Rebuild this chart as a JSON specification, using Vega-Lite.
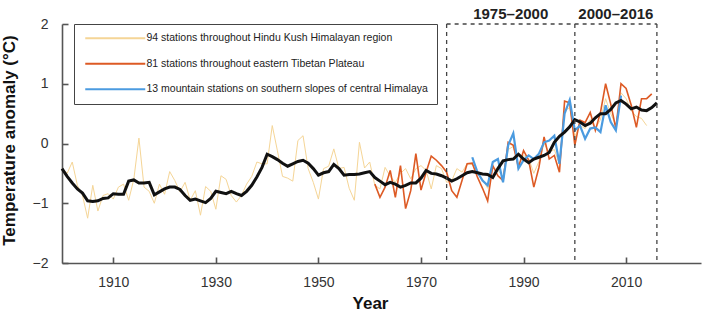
{
  "$schema": "https://vega.github.io/schema/vega-lite/v6.json",
  "width": 639,
  "height": 239,
  "autosize": "none",
  "padding": {"left": 62, "top": 24, "right": 2, "bottom": 51},
  "background": "white",
  "config": {
    "font": "Liberation Sans",
    "view": {"stroke": null},
    "axis": {"grid": false, "domainColor": "#555", "domainWidth": 1.6, "tickColor": "#555", "tickWidth": 1.6, "labelFont": "Liberation Sans", "labelFontSize": 14, "labelColor": "#333", "titleFont": "Liberation Sans", "titleColor": "#111", "titleFontWeight": "bold"},
    "legend": {"labelFont": "Liberation Sans", "labelFontSize": 10.5, "labelColor": "#222", "labelLimit": 400}
  },
  "data": {"values": [
    {"series":"94 stations throughout Hindu Kush Himalayan region","year":1900,"value":-0.42},
    {"series":"94 stations throughout Hindu Kush Himalayan region","year":1901,"value":-0.5},
    {"series":"94 stations throughout Hindu Kush Himalayan region","year":1902,"value":-0.31},
    {"series":"94 stations throughout Hindu Kush Himalayan region","year":1903,"value":-0.7},
    {"series":"94 stations throughout Hindu Kush Himalayan region","year":1904,"value":-0.87},
    {"series":"94 stations throughout Hindu Kush Himalayan region","year":1905,"value":-1.25},
    {"series":"94 stations throughout Hindu Kush Himalayan region","year":1906,"value":-0.7},
    {"series":"94 stations throughout Hindu Kush Himalayan region","year":1907,"value":-1.13},
    {"series":"94 stations throughout Hindu Kush Himalayan region","year":1908,"value":-0.87},
    {"series":"94 stations throughout Hindu Kush Himalayan region","year":1909,"value":-0.84},
    {"series":"94 stations throughout Hindu Kush Himalayan region","year":1910,"value":-0.93},
    {"series":"94 stations throughout Hindu Kush Himalayan region","year":1911,"value":-0.73},
    {"series":"94 stations throughout Hindu Kush Himalayan region","year":1912,"value":-0.68},
    {"series":"94 stations throughout Hindu Kush Himalayan region","year":1913,"value":-0.95},
    {"series":"94 stations throughout Hindu Kush Himalayan region","year":1914,"value":-0.6},
    {"series":"94 stations throughout Hindu Kush Himalayan region","year":1915,"value":0.09},
    {"series":"94 stations throughout Hindu Kush Himalayan region","year":1916,"value":-0.73},
    {"series":"94 stations throughout Hindu Kush Himalayan region","year":1917,"value":-0.8},
    {"series":"94 stations throughout Hindu Kush Himalayan region","year":1918,"value":-1.0},
    {"series":"94 stations throughout Hindu Kush Himalayan region","year":1919,"value":-0.68},
    {"series":"94 stations throughout Hindu Kush Himalayan region","year":1920,"value":-0.85},
    {"series":"94 stations throughout Hindu Kush Himalayan region","year":1921,"value":-0.47},
    {"series":"94 stations throughout Hindu Kush Himalayan region","year":1922,"value":-0.62},
    {"series":"94 stations throughout Hindu Kush Himalayan region","year":1923,"value":-0.81},
    {"series":"94 stations throughout Hindu Kush Himalayan region","year":1924,"value":-0.65},
    {"series":"94 stations throughout Hindu Kush Himalayan region","year":1925,"value":-0.95},
    {"series":"94 stations throughout Hindu Kush Himalayan region","year":1926,"value":-0.79},
    {"series":"94 stations throughout Hindu Kush Himalayan region","year":1927,"value":-1.2},
    {"series":"94 stations throughout Hindu Kush Himalayan region","year":1928,"value":-0.72},
    {"series":"94 stations throughout Hindu Kush Himalayan region","year":1929,"value":-0.8},
    {"series":"94 stations throughout Hindu Kush Himalayan region","year":1930,"value":-1.1},
    {"series":"94 stations throughout Hindu Kush Himalayan region","year":1931,"value":-0.54},
    {"series":"94 stations throughout Hindu Kush Himalayan region","year":1932,"value":-0.6},
    {"series":"94 stations throughout Hindu Kush Himalayan region","year":1933,"value":-0.87},
    {"series":"94 stations throughout Hindu Kush Himalayan region","year":1934,"value":-0.98},
    {"series":"94 stations throughout Hindu Kush Himalayan region","year":1935,"value":-0.87},
    {"series":"94 stations throughout Hindu Kush Himalayan region","year":1936,"value":-0.68},
    {"series":"94 stations throughout Hindu Kush Himalayan region","year":1937,"value":-0.55},
    {"series":"94 stations throughout Hindu Kush Himalayan region","year":1938,"value":-0.31},
    {"series":"94 stations throughout Hindu Kush Himalayan region","year":1939,"value":-0.34},
    {"series":"94 stations throughout Hindu Kush Himalayan region","year":1940,"value":-0.34},
    {"series":"94 stations throughout Hindu Kush Himalayan region","year":1941,"value":0.3},
    {"series":"94 stations throughout Hindu Kush Himalayan region","year":1942,"value":-0.12},
    {"series":"94 stations throughout Hindu Kush Himalayan region","year":1943,"value":-0.55},
    {"series":"94 stations throughout Hindu Kush Himalayan region","year":1944,"value":-0.58},
    {"series":"94 stations throughout Hindu Kush Himalayan region","year":1945,"value":-0.63},
    {"series":"94 stations throughout Hindu Kush Himalayan region","year":1946,"value":0.05},
    {"series":"94 stations throughout Hindu Kush Himalayan region","year":1947,"value":0.13},
    {"series":"94 stations throughout Hindu Kush Himalayan region","year":1948,"value":-0.42},
    {"series":"94 stations throughout Hindu Kush Himalayan region","year":1949,"value":-0.65},
    {"series":"94 stations throughout Hindu Kush Himalayan region","year":1950,"value":-0.93},
    {"series":"94 stations throughout Hindu Kush Himalayan region","year":1951,"value":-0.42},
    {"series":"94 stations throughout Hindu Kush Himalayan region","year":1952,"value":-0.38},
    {"series":"94 stations throughout Hindu Kush Himalayan region","year":1953,"value":-0.09},
    {"series":"94 stations throughout Hindu Kush Himalayan region","year":1954,"value":-0.42},
    {"series":"94 stations throughout Hindu Kush Himalayan region","year":1955,"value":-0.4},
    {"series":"94 stations throughout Hindu Kush Himalayan region","year":1956,"value":-0.75},
    {"series":"94 stations throughout Hindu Kush Himalayan region","year":1957,"value":-0.95},
    {"series":"94 stations throughout Hindu Kush Himalayan region","year":1958,"value":0.02},
    {"series":"94 stations throughout Hindu Kush Himalayan region","year":1959,"value":-0.41},
    {"series":"94 stations throughout Hindu Kush Himalayan region","year":1960,"value":-0.31},
    {"series":"94 stations throughout Hindu Kush Himalayan region","year":1961,"value":-0.7},
    {"series":"94 stations throughout Hindu Kush Himalayan region","year":1962,"value":-0.76},
    {"series":"94 stations throughout Hindu Kush Himalayan region","year":1963,"value":-0.4},
    {"series":"94 stations throughout Hindu Kush Himalayan region","year":1964,"value":-0.55},
    {"series":"94 stations throughout Hindu Kush Himalayan region","year":1965,"value":-0.65},
    {"series":"94 stations throughout Hindu Kush Himalayan region","year":1966,"value":-0.5},
    {"series":"94 stations throughout Hindu Kush Himalayan region","year":1967,"value":-0.42},
    {"series":"94 stations throughout Hindu Kush Himalayan region","year":1968,"value":-0.59},
    {"series":"94 stations throughout Hindu Kush Himalayan region","year":1969,"value":-0.42},
    {"series":"94 stations throughout Hindu Kush Himalayan region","year":1970,"value":-0.37},
    {"series":"94 stations throughout Hindu Kush Himalayan region","year":1971,"value":-0.45},
    {"series":"94 stations throughout Hindu Kush Himalayan region","year":1972,"value":-0.76},
    {"series":"94 stations throughout Hindu Kush Himalayan region","year":1973,"value":-0.37},
    {"series":"94 stations throughout Hindu Kush Himalayan region","year":1974,"value":-0.42},
    {"series":"94 stations throughout Hindu Kush Himalayan region","year":1975,"value":-0.65},
    {"series":"94 stations throughout Hindu Kush Himalayan region","year":1976,"value":-0.62},
    {"series":"94 stations throughout Hindu Kush Himalayan region","year":1977,"value":-0.42},
    {"series":"94 stations throughout Hindu Kush Himalayan region","year":1978,"value":-0.48},
    {"series":"94 stations throughout Hindu Kush Himalayan region","year":1979,"value":-0.34},
    {"series":"94 stations throughout Hindu Kush Himalayan region","year":1980,"value":-0.35},
    {"series":"94 stations throughout Hindu Kush Himalayan region","year":1981,"value":-0.5},
    {"series":"94 stations throughout Hindu Kush Himalayan region","year":1982,"value":-0.6},
    {"series":"94 stations throughout Hindu Kush Himalayan region","year":1983,"value":-0.75},
    {"series":"94 stations throughout Hindu Kush Himalayan region","year":1984,"value":-0.4},
    {"series":"94 stations throughout Hindu Kush Himalayan region","year":1985,"value":-0.45},
    {"series":"94 stations throughout Hindu Kush Himalayan region","year":1986,"value":-0.55},
    {"series":"94 stations throughout Hindu Kush Himalayan region","year":1987,"value":-0.1},
    {"series":"94 stations throughout Hindu Kush Himalayan region","year":1988,"value":-0.05},
    {"series":"94 stations throughout Hindu Kush Himalayan region","year":1989,"value":-0.35},
    {"series":"94 stations throughout Hindu Kush Himalayan region","year":1990,"value":-0.2},
    {"series":"94 stations throughout Hindu Kush Himalayan region","year":1991,"value":-0.25},
    {"series":"94 stations throughout Hindu Kush Himalayan region","year":1992,"value":-0.5},
    {"series":"94 stations throughout Hindu Kush Himalayan region","year":1993,"value":-0.3},
    {"series":"94 stations throughout Hindu Kush Himalayan region","year":1994,"value":0.0},
    {"series":"94 stations throughout Hindu Kush Himalayan region","year":1995,"value":-0.15},
    {"series":"94 stations throughout Hindu Kush Himalayan region","year":1996,"value":-0.1},
    {"series":"94 stations throughout Hindu Kush Himalayan region","year":1997,"value":-0.35},
    {"series":"94 stations throughout Hindu Kush Himalayan region","year":1998,"value":0.55},
    {"series":"94 stations throughout Hindu Kush Himalayan region","year":1999,"value":0.6},
    {"series":"94 stations throughout Hindu Kush Himalayan region","year":2000,"value":0.12},
    {"series":"94 stations throughout Hindu Kush Himalayan region","year":2001,"value":0.3},
    {"series":"94 stations throughout Hindu Kush Himalayan region","year":2002,"value":0.25},
    {"series":"94 stations throughout Hindu Kush Himalayan region","year":2003,"value":0.4},
    {"series":"94 stations throughout Hindu Kush Himalayan region","year":2004,"value":0.25},
    {"series":"94 stations throughout Hindu Kush Himalayan region","year":2005,"value":0.4},
    {"series":"94 stations throughout Hindu Kush Himalayan region","year":2006,"value":0.75},
    {"series":"94 stations throughout Hindu Kush Himalayan region","year":2007,"value":0.5},
    {"series":"94 stations throughout Hindu Kush Himalayan region","year":2008,"value":0.3},
    {"series":"94 stations throughout Hindu Kush Himalayan region","year":2009,"value":0.85},
    {"series":"94 stations throughout Hindu Kush Himalayan region","year":2010,"value":0.75},
    {"series":"94 stations throughout Hindu Kush Himalayan region","year":2011,"value":0.55},
    {"series":"94 stations throughout Hindu Kush Himalayan region","year":2012,"value":0.45},
    {"series":"94 stations throughout Hindu Kush Himalayan region","year":2013,"value":0.42},
    {"series":"94 stations throughout Hindu Kush Himalayan region","year":2014,"value":0.3},
    {"series":"81 stations throughout eastern Tibetan Plateau","year":1961,"value":-0.68},
    {"series":"81 stations throughout eastern Tibetan Plateau","year":1962,"value":-0.9},
    {"series":"81 stations throughout eastern Tibetan Plateau","year":1963,"value":-0.73},
    {"series":"81 stations throughout eastern Tibetan Plateau","year":1964,"value":-0.45},
    {"series":"81 stations throughout eastern Tibetan Plateau","year":1965,"value":-0.9},
    {"series":"81 stations throughout eastern Tibetan Plateau","year":1966,"value":-0.37},
    {"series":"81 stations throughout eastern Tibetan Plateau","year":1967,"value":-1.09},
    {"series":"81 stations throughout eastern Tibetan Plateau","year":1968,"value":-0.79},
    {"series":"81 stations throughout eastern Tibetan Plateau","year":1969,"value":-0.17},
    {"series":"81 stations throughout eastern Tibetan Plateau","year":1970,"value":-0.78},
    {"series":"81 stations throughout eastern Tibetan Plateau","year":1971,"value":-0.48},
    {"series":"81 stations throughout eastern Tibetan Plateau","year":1972,"value":-0.21},
    {"series":"81 stations throughout eastern Tibetan Plateau","year":1973,"value":-0.28},
    {"series":"81 stations throughout eastern Tibetan Plateau","year":1974,"value":-0.37},
    {"series":"81 stations throughout eastern Tibetan Plateau","year":1975,"value":-0.48},
    {"series":"81 stations throughout eastern Tibetan Plateau","year":1976,"value":-0.79},
    {"series":"81 stations throughout eastern Tibetan Plateau","year":1977,"value":-0.9},
    {"series":"81 stations throughout eastern Tibetan Plateau","year":1978,"value":-0.62},
    {"series":"81 stations throughout eastern Tibetan Plateau","year":1979,"value":-0.34},
    {"series":"81 stations throughout eastern Tibetan Plateau","year":1980,"value":-0.33},
    {"series":"81 stations throughout eastern Tibetan Plateau","year":1981,"value":-0.56},
    {"series":"81 stations throughout eastern Tibetan Plateau","year":1982,"value":-0.75},
    {"series":"81 stations throughout eastern Tibetan Plateau","year":1983,"value":-0.96},
    {"series":"81 stations throughout eastern Tibetan Plateau","year":1984,"value":-0.37},
    {"series":"81 stations throughout eastern Tibetan Plateau","year":1985,"value":-0.54},
    {"series":"81 stations throughout eastern Tibetan Plateau","year":1986,"value":-0.62},
    {"series":"81 stations throughout eastern Tibetan Plateau","year":1987,"value":0.02},
    {"series":"81 stations throughout eastern Tibetan Plateau","year":1988,"value":-0.03},
    {"series":"81 stations throughout eastern Tibetan Plateau","year":1989,"value":-0.4},
    {"series":"81 stations throughout eastern Tibetan Plateau","year":1990,"value":-0.12},
    {"series":"81 stations throughout eastern Tibetan Plateau","year":1991,"value":-0.28},
    {"series":"81 stations throughout eastern Tibetan Plateau","year":1992,"value":-0.73},
    {"series":"81 stations throughout eastern Tibetan Plateau","year":1993,"value":-0.4},
    {"series":"81 stations throughout eastern Tibetan Plateau","year":1994,"value":0.11},
    {"series":"81 stations throughout eastern Tibetan Plateau","year":1995,"value":-0.26},
    {"series":"81 stations throughout eastern Tibetan Plateau","year":1996,"value":-0.2},
    {"series":"81 stations throughout eastern Tibetan Plateau","year":1997,"value":-0.48},
    {"series":"81 stations throughout eastern Tibetan Plateau","year":1998,"value":0.71},
    {"series":"81 stations throughout eastern Tibetan Plateau","year":1999,"value":0.68},
    {"series":"81 stations throughout eastern Tibetan Plateau","year":2000,"value":-0.03},
    {"series":"81 stations throughout eastern Tibetan Plateau","year":2001,"value":0.39},
    {"series":"81 stations throughout eastern Tibetan Plateau","year":2002,"value":0.35},
    {"series":"81 stations throughout eastern Tibetan Plateau","year":2003,"value":0.52},
    {"series":"81 stations throughout eastern Tibetan Plateau","year":2004,"value":0.22},
    {"series":"81 stations throughout eastern Tibetan Plateau","year":2005,"value":0.52},
    {"series":"81 stations throughout eastern Tibetan Plateau","year":2006,"value":1.0},
    {"series":"81 stations throughout eastern Tibetan Plateau","year":2007,"value":0.66},
    {"series":"81 stations throughout eastern Tibetan Plateau","year":2008,"value":0.25},
    {"series":"81 stations throughout eastern Tibetan Plateau","year":2009,"value":1.0},
    {"series":"81 stations throughout eastern Tibetan Plateau","year":2010,"value":0.92},
    {"series":"81 stations throughout eastern Tibetan Plateau","year":2011,"value":0.64},
    {"series":"81 stations throughout eastern Tibetan Plateau","year":2012,"value":0.27},
    {"series":"81 stations throughout eastern Tibetan Plateau","year":2013,"value":0.75},
    {"series":"81 stations throughout eastern Tibetan Plateau","year":2014,"value":0.75},
    {"series":"81 stations throughout eastern Tibetan Plateau","year":2015,"value":0.83},
    {"series":"13 mountain stations on southern slopes of central Himalaya","year":1980,"value":-0.23},
    {"series":"13 mountain stations on southern slopes of central Himalaya","year":1981,"value":-0.48},
    {"series":"13 mountain stations on southern slopes of central Himalaya","year":1982,"value":-0.62},
    {"series":"13 mountain stations on southern slopes of central Himalaya","year":1983,"value":-0.7},
    {"series":"13 mountain stations on southern slopes of central Himalaya","year":1984,"value":-0.31},
    {"series":"13 mountain stations on southern slopes of central Himalaya","year":1985,"value":-0.26},
    {"series":"13 mountain stations on southern slopes of central Himalaya","year":1986,"value":-0.65},
    {"series":"13 mountain stations on southern slopes of central Himalaya","year":1987,"value":-0.03},
    {"series":"13 mountain stations on southern slopes of central Himalaya","year":1988,"value":0.17},
    {"series":"13 mountain stations on southern slopes of central Himalaya","year":1989,"value":-0.42},
    {"series":"13 mountain stations on southern slopes of central Himalaya","year":1990,"value":-0.28},
    {"series":"13 mountain stations on southern slopes of central Himalaya","year":1991,"value":-0.2},
    {"series":"13 mountain stations on southern slopes of central Himalaya","year":1992,"value":-0.26},
    {"series":"13 mountain stations on southern slopes of central Himalaya","year":1993,"value":-0.17},
    {"series":"13 mountain stations on southern slopes of central Himalaya","year":1994,"value":0.02},
    {"series":"13 mountain stations on southern slopes of central Himalaya","year":1995,"value":0.05},
    {"series":"13 mountain stations on southern slopes of central Himalaya","year":1996,"value":0.13},
    {"series":"13 mountain stations on southern slopes of central Himalaya","year":1997,"value":-0.34},
    {"series":"13 mountain stations on southern slopes of central Himalaya","year":1998,"value":0.5},
    {"series":"13 mountain stations on southern slopes of central Himalaya","year":1999,"value":0.73},
    {"series":"13 mountain stations on southern slopes of central Himalaya","year":2000,"value":0.22},
    {"series":"13 mountain stations on southern slopes of central Himalaya","year":2001,"value":0.3},
    {"series":"13 mountain stations on southern slopes of central Himalaya","year":2002,"value":0.08},
    {"series":"13 mountain stations on southern slopes of central Himalaya","year":2003,"value":0.25},
    {"series":"13 mountain stations on southern slopes of central Himalaya","year":2004,"value":0.27},
    {"series":"13 mountain stations on southern slopes of central Himalaya","year":2005,"value":0.19},
    {"series":"13 mountain stations on southern slopes of central Himalaya","year":2006,"value":0.64},
    {"series":"13 mountain stations on southern slopes of central Himalaya","year":2007,"value":0.36},
    {"series":"13 mountain stations on southern slopes of central Himalaya","year":2008,"value":0.22},
    {"series":"13 mountain stations on southern slopes of central Himalaya","year":2009,"value":0.8},
    {"series":"smoothed","year":1900,"value":-0.42},
    {"series":"smoothed","year":1901,"value":-0.55},
    {"series":"smoothed","year":1902,"value":-0.66},
    {"series":"smoothed","year":1903,"value":-0.76},
    {"series":"smoothed","year":1904,"value":-0.83},
    {"series":"smoothed","year":1905,"value":-0.96},
    {"series":"smoothed","year":1906,"value":-0.97},
    {"series":"smoothed","year":1907,"value":-0.96},
    {"series":"smoothed","year":1908,"value":-0.92},
    {"series":"smoothed","year":1909,"value":-0.91},
    {"series":"smoothed","year":1910,"value":-0.84},
    {"series":"smoothed","year":1911,"value":-0.85},
    {"series":"smoothed","year":1912,"value":-0.85},
    {"series":"smoothed","year":1913,"value":-0.63},
    {"series":"smoothed","year":1914,"value":-0.61},
    {"series":"smoothed","year":1915,"value":-0.66},
    {"series":"smoothed","year":1916,"value":-0.66},
    {"series":"smoothed","year":1917,"value":-0.65},
    {"series":"smoothed","year":1918,"value":-0.86},
    {"series":"smoothed","year":1919,"value":-0.81},
    {"series":"smoothed","year":1920,"value":-0.76},
    {"series":"smoothed","year":1921,"value":-0.73},
    {"series":"smoothed","year":1922,"value":-0.73},
    {"series":"smoothed","year":1923,"value":-0.77},
    {"series":"smoothed","year":1924,"value":-0.87},
    {"series":"smoothed","year":1925,"value":-0.95},
    {"series":"smoothed","year":1926,"value":-0.93},
    {"series":"smoothed","year":1927,"value":-0.96},
    {"series":"smoothed","year":1928,"value":-0.99},
    {"series":"smoothed","year":1929,"value":-0.92},
    {"series":"smoothed","year":1930,"value":-0.8},
    {"series":"smoothed","year":1931,"value":-0.82},
    {"series":"smoothed","year":1932,"value":-0.84},
    {"series":"smoothed","year":1933,"value":-0.8},
    {"series":"smoothed","year":1934,"value":-0.84},
    {"series":"smoothed","year":1935,"value":-0.87},
    {"series":"smoothed","year":1936,"value":-0.8},
    {"series":"smoothed","year":1937,"value":-0.7},
    {"series":"smoothed","year":1938,"value":-0.56},
    {"series":"smoothed","year":1939,"value":-0.4},
    {"series":"smoothed","year":1940,"value":-0.18},
    {"series":"smoothed","year":1941,"value":-0.22},
    {"series":"smoothed","year":1942,"value":-0.27},
    {"series":"smoothed","year":1943,"value":-0.33},
    {"series":"smoothed","year":1944,"value":-0.38},
    {"series":"smoothed","year":1945,"value":-0.34},
    {"series":"smoothed","year":1946,"value":-0.3},
    {"series":"smoothed","year":1947,"value":-0.28},
    {"series":"smoothed","year":1948,"value":-0.33},
    {"series":"smoothed","year":1949,"value":-0.42},
    {"series":"smoothed","year":1950,"value":-0.53},
    {"series":"smoothed","year":1951,"value":-0.49},
    {"series":"smoothed","year":1952,"value":-0.47},
    {"series":"smoothed","year":1953,"value":-0.35},
    {"series":"smoothed","year":1954,"value":-0.42},
    {"series":"smoothed","year":1955,"value":-0.53},
    {"series":"smoothed","year":1956,"value":-0.52},
    {"series":"smoothed","year":1957,"value":-0.52},
    {"series":"smoothed","year":1958,"value":-0.51},
    {"series":"smoothed","year":1959,"value":-0.49},
    {"series":"smoothed","year":1960,"value":-0.47},
    {"series":"smoothed","year":1961,"value":-0.57},
    {"series":"smoothed","year":1962,"value":-0.63},
    {"series":"smoothed","year":1963,"value":-0.69},
    {"series":"smoothed","year":1964,"value":-0.65},
    {"series":"smoothed","year":1965,"value":-0.68},
    {"series":"smoothed","year":1966,"value":-0.73},
    {"series":"smoothed","year":1967,"value":-0.7},
    {"series":"smoothed","year":1968,"value":-0.66},
    {"series":"smoothed","year":1969,"value":-0.66},
    {"series":"smoothed","year":1970,"value":-0.58},
    {"series":"smoothed","year":1971,"value":-0.45},
    {"series":"smoothed","year":1972,"value":-0.5},
    {"series":"smoothed","year":1973,"value":-0.51},
    {"series":"smoothed","year":1974,"value":-0.54},
    {"series":"smoothed","year":1975,"value":-0.58},
    {"series":"smoothed","year":1976,"value":-0.63},
    {"series":"smoothed","year":1977,"value":-0.59},
    {"series":"smoothed","year":1978,"value":-0.54},
    {"series":"smoothed","year":1979,"value":-0.49},
    {"series":"smoothed","year":1980,"value":-0.47},
    {"series":"smoothed","year":1981,"value":-0.49},
    {"series":"smoothed","year":1982,"value":-0.51},
    {"series":"smoothed","year":1983,"value":-0.52},
    {"series":"smoothed","year":1984,"value":-0.57},
    {"series":"smoothed","year":1985,"value":-0.42},
    {"series":"smoothed","year":1986,"value":-0.29},
    {"series":"smoothed","year":1987,"value":-0.27},
    {"series":"smoothed","year":1988,"value":-0.26},
    {"series":"smoothed","year":1989,"value":-0.18},
    {"series":"smoothed","year":1990,"value":-0.26},
    {"series":"smoothed","year":1991,"value":-0.32},
    {"series":"smoothed","year":1992,"value":-0.26},
    {"series":"smoothed","year":1993,"value":-0.23},
    {"series":"smoothed","year":1994,"value":-0.2},
    {"series":"smoothed","year":1995,"value":-0.15},
    {"series":"smoothed","year":1996,"value":0.02},
    {"series":"smoothed","year":1997,"value":0.12},
    {"series":"smoothed","year":1998,"value":0.19},
    {"series":"smoothed","year":1999,"value":0.28},
    {"series":"smoothed","year":2000,"value":0.4},
    {"series":"smoothed","year":2001,"value":0.36},
    {"series":"smoothed","year":2002,"value":0.3},
    {"series":"smoothed","year":2003,"value":0.34},
    {"series":"smoothed","year":2004,"value":0.43},
    {"series":"smoothed","year":2005,"value":0.5},
    {"series":"smoothed","year":2006,"value":0.5},
    {"series":"smoothed","year":2007,"value":0.57},
    {"series":"smoothed","year":2008,"value":0.68},
    {"series":"smoothed","year":2009,"value":0.72},
    {"series":"smoothed","year":2010,"value":0.66},
    {"series":"smoothed","year":2011,"value":0.58},
    {"series":"smoothed","year":2012,"value":0.61},
    {"series":"smoothed","year":2013,"value":0.56},
    {"series":"smoothed","year":2014,"value":0.55},
    {"series":"smoothed","year":2015,"value":0.6},
    {"series":"smoothed","year":2016,"value":0.68}
  ]},
  "layer": [
    {
      "transform": [{"filter": "datum.series === '94 stations throughout Hindu Kush Himalayan region'"}],
      "mark": {"type": "line", "strokeWidth": 1},
      "encoding": {
        "x": {"field": "year", "type": "quantitative", "scale": {"domain": [1900, 2024.6], "nice": false, "zero": false},
          "axis": {"title": "Year", "values": [1910, 1930, 1950, 1970, 1990, 2010], "format": "d", "tickSize": -6, "labelPadding": 18, "titleFontSize": 17, "titleX": 308, "titleY": 45, "titleBaseline": "alphabetic", "titleAnchor": null, "titleAlign": "center"}},
        "y": {"field": "value", "type": "quantitative", "scale": {"domain": [-2, 2], "nice": false},
          "axis": {"title": "Temperature anomaly (°C)", "values": [-2, -1, 0, 1, 2], "format": "d", "tickSize": -6, "labelPadding": 20, "titleFontSize": 17, "titleAngle": 270, "titleX": -48, "titleY": 116, "titleBaseline": "alphabetic", "titleAlign": "center", "titleAnchor": null}},
        "color": {"field": "series", "type": "nominal", "scale": {"domain": ["94 stations throughout Hindu Kush Himalayan region", "81 stations throughout eastern Tibetan Plateau", "13 mountain stations on southern slopes of central Himalaya"], "range": ["#f5d596", "#dd5a24", "#4b9be0"]},
        "legend": {"title": null, "orient": "none", "legendX": 12, "legendY": 0, "strokeColor": "#444", "fillColor": "white", "padding": 9, "symbolType": "M-10,0H10", "symbolSize": 36, "symbolStrokeWidth": 2, "symbolOffset": 27, "labelOffset": 26, "rowPadding": 14.5}}}
    },
    {
      "transform": [{"filter": "datum.series === '81 stations throughout eastern Tibetan Plateau'"}],
      "mark": {"type": "line", "strokeWidth": 1.6},
      "encoding": {"x": {"field": "year", "type": "quantitative"}, "y": {"field": "value", "type": "quantitative"}, "color": {"field": "series", "type": "nominal"}}
    },
    {
      "transform": [{"filter": "datum.series === '13 mountain stations on southern slopes of central Himalaya'"}],
      "mark": {"type": "line", "strokeWidth": 2.2},
      "encoding": {"x": {"field": "year", "type": "quantitative"}, "y": {"field": "value", "type": "quantitative"}, "color": {"field": "series", "type": "nominal"}}
    },
    {
      "transform": [{"filter": "datum.series === 'smoothed'"}],
      "mark": {"type": "line", "strokeWidth": 3, "color": "#111"},
      "encoding": {"x": {"field": "year", "type": "quantitative"}, "y": {"field": "value", "type": "quantitative"}}
    },
    {
      "data": {"values": [{"year": 1975}, {"year": 2000}, {"year": 2016}]},
      "mark": {"type": "rule", "strokeDash": [4, 4], "color": "#444", "strokeWidth": 1.3},
      "encoding": {"x": {"field": "year", "type": "quantitative"}, "y": {"datum": 2}, "y2": {"datum": -2}}
    },
    {
      "data": {"values": [{"start": 1975, "end": 2016}]},
      "mark": {"type": "rule", "strokeDash": [4, 4], "color": "#444", "strokeWidth": 1.3},
      "encoding": {"x": {"field": "start", "type": "quantitative"}, "x2": {"field": "end"}, "y": {"datum": 2}}
    },
    {
      "data": {"values": [{"mid": 1987.5, "label": "1975–2000"}, {"mid": 2008, "label": "2000–2016"}]},
      "mark": {"type": "text", "fontWeight": "bold", "fontSize": 15, "color": "#222", "dy": -10, "font": "Liberation Sans"},
      "encoding": {"x": {"field": "mid", "type": "quantitative"}, "y": {"datum": 2}, "text": {"field": "label"}}
    }
  ]
}
